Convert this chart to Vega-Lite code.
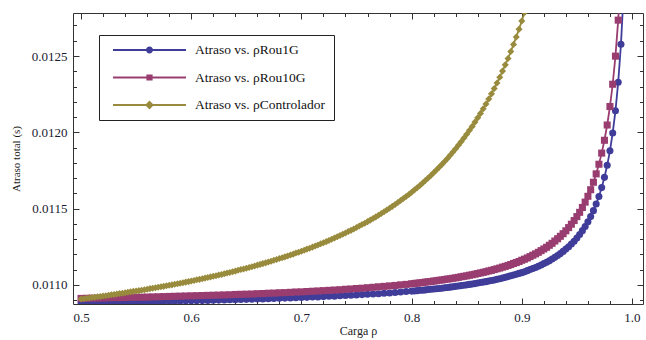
{
  "$schema": "https://vega.github.io/schema/vega-lite/v6.json",
  "width": 570,
  "height": 291,
  "autosize": "none",
  "padding": {"left": 73, "top": 13, "right": 3, "bottom": 36},
  "background": "white",
  "config": {
    "view": {"stroke": "#333", "strokeWidth": 1},
    "font": "Liberation Serif",
    "axis": {"labelFont": "Liberation Serif", "titleFont": "Liberation Serif", "labelFontSize": 13, "titleFontSize": 12, "titleFontWeight": "normal", "labelColor": "#1a1a30", "titleColor": "#1a1a1a", "tickColor": "#333", "tickWidth": 1, "domain": false, "grid": false, "labelOverlap": false, "labelBound": false, "labelFlush": false}
  },
  "data": {"values": [
    {"r":0.500,"a":0.010884,"b":0.010912,"c":0.010908},
    {"r":0.5025,"c":0.010910},
    {"r":0.505,"a":0.010884,"b":0.010913,"c":0.010913},
    {"r":0.5075,"c":0.010915},
    {"r":0.510,"a":0.010885,"b":0.010914,"c":0.010918},
    {"r":0.5125,"c":0.010920},
    {"r":0.515,"a":0.010885,"b":0.010914,"c":0.010923},
    {"r":0.5175,"c":0.010925},
    {"r":0.520,"a":0.010886,"b":0.010915,"c":0.010928},
    {"r":0.5225,"c":0.010930},
    {"r":0.525,"a":0.010887,"b":0.010916,"c":0.010933},
    {"r":0.5275,"c":0.010936},
    {"r":0.530,"a":0.010887,"b":0.010917,"c":0.010938},
    {"r":0.5325,"c":0.010941},
    {"r":0.535,"a":0.010888,"b":0.010917,"c":0.010944},
    {"r":0.5375,"c":0.010946},
    {"r":0.540,"a":0.010888,"b":0.010918,"c":0.010949},
    {"r":0.5425,"c":0.010952},
    {"r":0.545,"a":0.010889,"b":0.010919,"c":0.010955},
    {"r":0.5475,"c":0.010958},
    {"r":0.550,"a":0.010890,"b":0.010920,"c":0.010961},
    {"r":0.5525,"c":0.010963},
    {"r":0.555,"a":0.010890,"b":0.010920,"c":0.010966},
    {"r":0.5575,"c":0.010969},
    {"r":0.560,"a":0.010891,"b":0.010921,"c":0.010972},
    {"r":0.5625,"c":0.010976},
    {"r":0.565,"a":0.010892,"b":0.010922,"c":0.010979},
    {"r":0.5675,"c":0.010982},
    {"r":0.570,"a":0.010892,"b":0.010923,"c":0.010985},
    {"r":0.5725,"c":0.010988},
    {"r":0.575,"a":0.010893,"b":0.010924,"c":0.010991},
    {"r":0.5775,"c":0.010995},
    {"r":0.580,"a":0.010894,"b":0.010925,"c":0.010998},
    {"r":0.5825,"c":0.011001},
    {"r":0.585,"a":0.010894,"b":0.010926,"c":0.011005},
    {"r":0.5875,"c":0.011008},
    {"r":0.590,"a":0.010895,"b":0.010927,"c":0.011012},
    {"r":0.5925,"c":0.011015},
    {"r":0.595,"a":0.010896,"b":0.010928,"c":0.011019},
    {"r":0.5975,"c":0.011022},
    {"r":0.600,"a":0.010897,"b":0.010929,"c":0.011026},
    {"r":0.6025,"c":0.011030},
    {"r":0.605,"a":0.010897,"b":0.010930,"c":0.011034},
    {"r":0.6075,"c":0.011037},
    {"r":0.610,"a":0.010898,"b":0.010931,"c":0.011041},
    {"r":0.6125,"c":0.011045},
    {"r":0.615,"a":0.010899,"b":0.010932,"c":0.011049},
    {"r":0.6175,"c":0.011053},
    {"r":0.620,"a":0.010900,"b":0.010933,"c":0.011057},
    {"r":0.6225,"c":0.011061},
    {"r":0.625,"a":0.010901,"b":0.010934,"c":0.011065},
    {"r":0.6275,"c":0.011069},
    {"r":0.630,"a":0.010902,"b":0.010935,"c":0.011074},
    {"r":0.6325,"c":0.011078},
    {"r":0.635,"a":0.010903,"b":0.010936,"c":0.011082},
    {"r":0.6375,"c":0.011087},
    {"r":0.640,"a":0.010904,"b":0.010938,"c":0.011091},
    {"r":0.6425,"c":0.011096},
    {"r":0.645,"a":0.010905,"b":0.010939,"c":0.011101},
    {"r":0.6475,"c":0.011105},
    {"r":0.650,"a":0.010906,"b":0.010940,"c":0.011110},
    {"r":0.6525,"c":0.011115},
    {"r":0.655,"a":0.010907,"b":0.010941,"c":0.011120},
    {"r":0.6575,"c":0.011125},
    {"r":0.660,"a":0.010908,"b":0.010943,"c":0.011130},
    {"r":0.6625,"c":0.011135},
    {"r":0.665,"a":0.010909,"b":0.010944,"c":0.011140},
    {"r":0.6675,"c":0.011145},
    {"r":0.670,"a":0.010910,"b":0.010946,"c":0.011151},
    {"r":0.6725,"c":0.011156},
    {"r":0.675,"a":0.010911,"b":0.010947,"c":0.011162},
    {"r":0.6775,"c":0.011167},
    {"r":0.680,"a":0.010913,"b":0.010949,"c":0.011173},
    {"r":0.6825,"c":0.011179},
    {"r":0.685,"a":0.010914,"b":0.010950,"c":0.011184},
    {"r":0.6875,"c":0.011190},
    {"r":0.690,"a":0.010915,"b":0.010952,"c":0.011196},
    {"r":0.6925,"c":0.011202},
    {"r":0.695,"a":0.010916,"b":0.010954,"c":0.011209},
    {"r":0.6975,"c":0.011215},
    {"r":0.700,"a":0.010918,"b":0.010955,"c":0.011221},
    {"r":0.7025,"c":0.011228},
    {"r":0.705,"a":0.010919,"b":0.010957,"c":0.011235},
    {"r":0.7075,"c":0.011241},
    {"r":0.710,"a":0.010921,"b":0.010959,"c":0.011248},
    {"r":0.7125,"c":0.011255},
    {"r":0.715,"a":0.010922,"b":0.010961,"c":0.011262},
    {"r":0.7175,"c":0.011270},
    {"r":0.720,"a":0.010924,"b":0.010963,"c":0.011277},
    {"r":0.7225,"c":0.011284},
    {"r":0.725,"a":0.010926,"b":0.010965,"c":0.011292},
    {"r":0.7275,"c":0.011300},
    {"r":0.730,"a":0.010927,"b":0.010967,"c":0.011308},
    {"r":0.7325,"c":0.011316},
    {"r":0.735,"a":0.010929,"b":0.010969,"c":0.011324},
    {"r":0.7375,"c":0.011332},
    {"r":0.740,"a":0.010931,"b":0.010972,"c":0.011341},
    {"r":0.7425,"c":0.011350},
    {"r":0.745,"a":0.010933,"b":0.010974,"c":0.011358},
    {"r":0.7475,"c":0.011367},
    {"r":0.750,"a":0.010935,"b":0.010977,"c":0.011377},
    {"r":0.7525,"c":0.011386},
    {"r":0.755,"a":0.010937,"b":0.010979,"c":0.011396},
    {"r":0.7575,"c":0.011405},
    {"r":0.760,"a":0.010939,"b":0.010982,"c":0.011415},
    {"r":0.7625,"c":0.011425},
    {"r":0.765,"a":0.010941,"b":0.010985,"c":0.011436},
    {"r":0.7675,"c":0.011446},
    {"r":0.770,"a":0.010943,"b":0.010988,"c":0.011457},
    {"r":0.7725,"c":0.011468},
    {"r":0.775,"a":0.010946,"b":0.010991,"c":0.011480},
    {"r":0.7775,"c":0.011491},
    {"r":0.780,"a":0.010948,"b":0.010994,"c":0.011503},
    {"r":0.7825,"c":0.011515},
    {"r":0.785,"a":0.010951,"b":0.010997,"c":0.011527},
    {"r":0.7875,"c":0.011540},
    {"r":0.790,"a":0.010954,"b":0.011001,"c":0.011553},
    {"r":0.7925,"c":0.011566},
    {"r":0.795,"a":0.010957,"b":0.011004,"c":0.011580},
    {"r":0.7975,"c":0.011593},
    {"r":0.800,"a":0.010960,"b":0.011008,"c":0.011608},
    {"r":0.8025,"a":0.010961,"b":0.011010,"c":0.011622},
    {"r":0.805,"a":0.010963,"b":0.011012,"c":0.011637},
    {"r":0.8075,"a":0.010965,"b":0.011014,"c":0.011652},
    {"r":0.810,"a":0.010966,"b":0.011016,"c":0.011668},
    {"r":0.8125,"a":0.010968,"b":0.011019,"c":0.011684},
    {"r":0.815,"a":0.010970,"b":0.011021,"c":0.011701},
    {"r":0.8175,"a":0.010972,"b":0.011023,"c":0.011717},
    {"r":0.820,"a":0.010974,"b":0.011026,"c":0.011735},
    {"r":0.8225,"a":0.010975,"b":0.011028,"c":0.011753},
    {"r":0.825,"a":0.010977,"b":0.011031,"c":0.011771},
    {"r":0.8275,"a":0.010979,"b":0.011033,"c":0.011790},
    {"r":0.830,"a":0.010982,"b":0.011036,"c":0.011809},
    {"r":0.8325,"a":0.010984,"b":0.011039,"c":0.011829},
    {"r":0.835,"a":0.010986,"b":0.011041,"c":0.011850},
    {"r":0.8375,"a":0.010988,"b":0.011044,"c":0.011871},
    {"r":0.840,"a":0.010991,"b":0.011047,"c":0.011893},
    {"r":0.8425,"a":0.010993,"b":0.011050,"c":0.011916},
    {"r":0.845,"a":0.010996,"b":0.011054,"c":0.011939},
    {"r":0.8475,"a":0.010998,"b":0.011057,"c":0.011963},
    {"r":0.850,"a":0.011001,"b":0.011060,"c":0.011987},
    {"r":0.8525,"a":0.011004,"b":0.011064,"c":0.012013},
    {"r":0.855,"a":0.011007,"b":0.011067,"c":0.012039},
    {"r":0.8575,"a":0.011009,"b":0.011071,"c":0.012067},
    {"r":0.860,"a":0.011013,"b":0.011075,"c":0.012095},
    {"r":0.8625,"a":0.011016,"b":0.011079,"c":0.012124},
    {"r":0.865,"a":0.011019,"b":0.011083,"c":0.012154},
    {"r":0.8675,"a":0.011022,"b":0.011087,"c":0.012186},
    {"r":0.870,"a":0.011026,"b":0.011092,"c":0.012218},
    {"r":0.8725,"a":0.011030,"b":0.011096,"c":0.012252},
    {"r":0.875,"a":0.011033,"b":0.011101,"c":0.012287},
    {"r":0.8775,"a":0.011037,"b":0.011106,"c":0.012323},
    {"r":0.880,"a":0.011041,"b":0.011111,"c":0.012361},
    {"r":0.8825,"a":0.011046,"b":0.011117,"c":0.012401},
    {"r":0.885,"a":0.011050,"b":0.011122,"c":0.012442},
    {"r":0.8875,"a":0.011055,"b":0.011128,"c":0.012484},
    {"r":0.890,"a":0.011060,"b":0.011134,"c":0.012529},
    {"r":0.8925,"a":0.011065,"b":0.011141,"c":0.012576},
    {"r":0.895,"a":0.011070,"b":0.011147,"c":0.012625},
    {"r":0.8975,"a":0.011076,"b":0.011154,"c":0.012676},
    {"r":0.900,"a":0.011081,"b":0.011162,"c":0.012729},
    {"r":0.9025,"a":0.011087,"b":0.011169,"c":0.012785},
    {"r":0.905,"a":0.011094,"b":0.011177,"c":0.012844},
    {"r":0.9075,"a":0.011101,"b":0.011186},
    {"r":0.910,"a":0.011108,"b":0.011195},
    {"r":0.9125,"a":0.011115,"b":0.011204},
    {"r":0.915,"a":0.011123,"b":0.011214},
    {"r":0.9175,"a":0.011131,"b":0.011225},
    {"r":0.920,"a":0.011140,"b":0.011236},
    {"r":0.9225,"a":0.011149,"b":0.011247},
    {"r":0.925,"a":0.011159,"b":0.011260},
    {"r":0.9275,"a":0.011170,"b":0.011273},
    {"r":0.930,"a":0.011181,"b":0.011288},
    {"r":0.9325,"a":0.011193,"b":0.011303},
    {"r":0.935,"a":0.011206,"b":0.011319},
    {"r":0.9375,"a":0.011220,"b":0.011336},
    {"r":0.940,"a":0.011235,"b":0.011355},
    {"r":0.9425,"a":0.011251,"b":0.011376},
    {"r":0.945,"a":0.011268,"b":0.011398},
    {"r":0.9475,"a":0.011287,"b":0.011422},
    {"r":0.950,"a":0.011308,"b":0.011448},
    {"r":0.9525,"a":0.011331,"b":0.011476},
    {"r":0.955,"a":0.011356,"b":0.011508},
    {"r":0.9575,"a":0.011383,"b":0.011543},
    {"r":0.960,"a":0.011414,"b":0.011581},
    {"r":0.9625,"a":0.011448,"b":0.011624},
    {"r":0.965,"a":0.011487,"b":0.011673},
    {"r":0.9675,"a":0.011530,"b":0.011728},
    {"r":0.970,"a":0.011580,"b":0.011791},
    {"r":0.9725,"a":0.011638,"b":0.011864},
    {"r":0.975,"a":0.011705,"b":0.011948},
    {"r":0.9775,"a":0.011784,"b":0.012048},
    {"r":0.980,"a":0.011879,"b":0.012169},
    {"r":0.9825,"a":0.011996,"b":0.012315},
    {"r":0.985,"a":0.012141,"b":0.012499},
    {"r":0.9875,"a":0.012328,"b":0.012735},
    {"r":0.990,"a":0.012577,"b":0.013050},
    {"r":0.9925,"a":0.012926}
  ]},
  "transform": [
    {"fold": ["a", "b", "c"], "as": ["k", "d"]},
    {"filter": "isValid(datum.d)"}
  ],
  "layer": [
    {
      "mark": {"type": "line", "strokeWidth": 1.8, "clip": true},
      "encoding": {
        "x": {"field": "r", "type": "quantitative", "scale": {"domain": [0.4927, 1.01], "nice": false, "zero": false},
          "axis": {"orient": "bottom", "values": [0.5,0.52,0.54,0.56,0.58,0.6,0.62,0.64,0.66,0.68,0.7,0.72,0.74,0.76,0.78,0.8,0.82,0.84,0.86,0.88,0.9,0.92,0.94,0.96,0.98,1.0],
            "labelExpr": "abs(datum.value*10-round(datum.value*10))<0.001 ? format(datum.value,'.1f') : ''",
            "tickSize": {"condition": {"test": "abs(datum.value*10-round(datum.value*10))<0.001", "value": -6}, "value": -3.5},
            "labelPadding": 13, "title": "Carga ρ", "titleBaseline": "middle", "titleY": 26}},
        "y": {"field": "d", "type": "quantitative", "scale": {"domain": [0.0108755, 0.0127817], "nice": false, "zero": false},
          "axis": {"orient": "left", "values": [0.0109,0.011,0.0111,0.0112,0.0113,0.0114,0.0115,0.0116,0.0117,0.0118,0.0119,0.012,0.0121,0.0122,0.0123,0.0124,0.0125,0.0126,0.0127],
            "labelExpr": "abs(datum.value*2000-round(datum.value*2000))<0.01 ? format(datum.value,'.4f') : ''",
            "tickSize": {"condition": {"test": "abs(datum.value*2000-round(datum.value*2000))<0.01", "value": -6}, "value": -3.5},
            "labelPadding": 12, "title": "Atraso total (s)", "titleFontSize": 11, "titlePadding": 10}},
        "color": {"field": "k", "type": "nominal", "scale": {"domain": ["a", "b", "c"], "range": ["#3f3d99", "#993d71", "#998b3d"]}, "legend": null}
      }
    },
    {
      "mark": {"type": "point", "filled": true, "size": 50, "opacity": 1, "strokeWidth": 0, "clip": true},
      "encoding": {
        "x": {"field": "r", "type": "quantitative", "scale": {"domain": [0.4927, 1.01], "nice": false, "zero": false},
          "axis": {"orient": "top", "values": [0.5,0.52,0.54,0.56,0.58,0.6,0.62,0.64,0.66,0.68,0.7,0.72,0.74,0.76,0.78,0.8,0.82,0.84,0.86,0.88,0.9,0.92,0.94,0.96,0.98,1.0],
            "labels": false, "title": null,
            "tickSize": {"condition": {"test": "abs(datum.value*10-round(datum.value*10))<0.001", "value": -6}, "value": -3.5}}},
        "y": {"field": "d", "type": "quantitative", "scale": {"domain": [0.0108755, 0.0127817], "nice": false, "zero": false},
          "axis": {"orient": "right", "values": [0.0109,0.011,0.0111,0.0112,0.0113,0.0114,0.0115,0.0116,0.0117,0.0118,0.0119,0.012,0.0121,0.0122,0.0123,0.0124,0.0125,0.0126,0.0127],
            "labels": false, "title": null,
            "tickSize": {"condition": {"test": "abs(datum.value*2000-round(datum.value*2000))<0.01", "value": -6}, "value": -3.5}}},
        "color": {"field": "k", "type": "nominal", "scale": {"domain": ["a", "b", "c"], "range": ["#3f3d99", "#993d71", "#998b3d"]}, "legend": null},
        "shape": {"field": "k", "type": "nominal", "scale": {"domain": ["a", "b", "c"], "range": ["circle", "square", "diamond"]}, "legend": null},
        "order": {"field": "k", "type": "ordinal"}
      }
    },
    {
      "transform": [{"filter": "datum.d < 0"}],
      "mark": {"type": "point", "filled": true, "opacity": 1, "strokeWidth": 0},
      "encoding": {
        "x": {"field": "r", "type": "quantitative", "axis": null},
        "y": {"field": "d", "type": "quantitative", "axis": null},
        "color": {"field": "k", "type": "nominal", "scale": {"domain": ["a", "b", "c"], "range": ["#3f3d99", "#993d71", "#998b3d"]},
          "legend": {"orient": "none", "legendX": 26, "legendY": 22, "title": null, "direction": "vertical",
            "fillColor": "#ffffff", "strokeColor": "#222222", "padding": 8, "cornerRadius": 0,
            "symbolSize": 5329, "symbolStrokeWidth": 0, "symbolOffset": 6, "clipHeight": 14, "rowPadding": 13.5,
            "labelFont": "Liberation Serif", "labelFontSize": 13.5, "labelColor": "#111111", "labelOffset": 9, "labelLimit": 300,
            "labelExpr": "datum.label == 'a' ? 'Atraso vs. ρRou1G' : datum.label == 'b' ? 'Atraso vs. ρRou10G' : 'Atraso vs. ρControlador'"}},
        "shape": {"field": "k", "type": "nominal",
          "scale": {"domain": ["a", "b", "c"], "range": [
            "M-1,-0.028H1V0.028H-1Z M-0.095,0A0.095,0.095 0 1,1 0.095,0A0.095,0.095 0 1,1 -0.095,0Z",
            "M-1,-0.028H1V0.028H-1Z M-0.085,-0.085H0.085V0.085H-0.085Z",
            "M-1,-0.028H1V0.028H-1Z M0,-0.12L0.12,0L0,0.12L-0.12,0Z"]},
          "legend": {"orient": "none", "legendX": 26, "legendY": 22, "title": null, "direction": "vertical",
            "fillColor": "#ffffff", "strokeColor": "#222222", "padding": 8, "cornerRadius": 0,
            "symbolSize": 5329, "symbolStrokeWidth": 0, "symbolOffset": 6, "clipHeight": 14, "rowPadding": 13.5,
            "labelFont": "Liberation Serif", "labelFontSize": 13.5, "labelColor": "#111111", "labelOffset": 9, "labelLimit": 300,
            "labelExpr": "datum.label == 'a' ? 'Atraso vs. ρRou1G' : datum.label == 'b' ? 'Atraso vs. ρRou10G' : 'Atraso vs. ρControlador'"}}
      }
    }
  ],
  "resolve": {"axis": {"x": "independent", "y": "independent"}, "scale": {"color": "independent", "shape": "independent"}}
}
